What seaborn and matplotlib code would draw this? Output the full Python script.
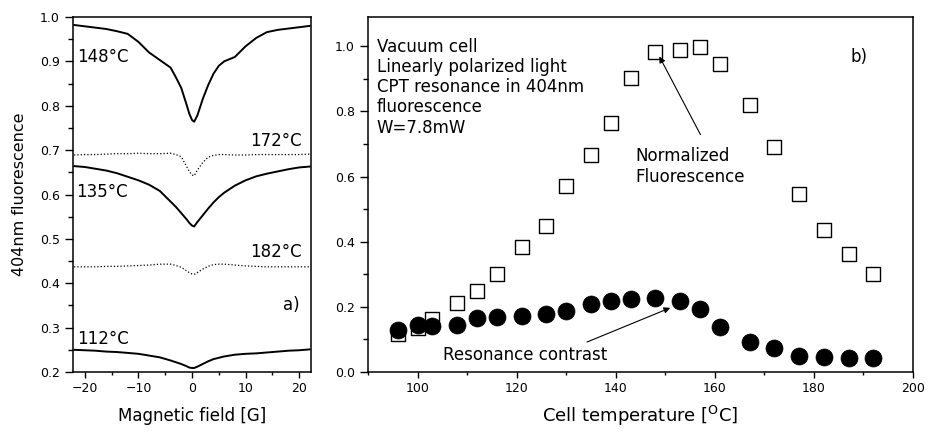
import matplotlib
matplotlib.use("Agg")
import pandas as pd
import matplotlib.pyplot as plt
from matplotlib.ticker import MultipleLocator
import seaborn as sns

# panel a) - fluorescence vs magnetic field
field = [-22, -20, -18, -16, -14, -12, -10, -8, -6, -4, -3, -2, -1, -0.5, 0, 0.4,
         1, 2, 3, 4, 5, 6, 8, 10, 12, 14, 16, 18, 20, 22]
fl_148 = [0.982, 0.979, 0.976, 0.973, 0.968, 0.962, 0.944, 0.920, 0.903, 0.886, 0.864, 0.840,
          0.802, 0.782, 0.768, 0.764, 0.778, 0.815, 0.846, 0.872, 0.890, 0.900, 0.910, 0.934,
          0.953, 0.966, 0.971, 0.974, 0.977, 0.980]
fl_172 = [0.689, 0.690, 0.690, 0.691, 0.692, 0.692, 0.693, 0.692, 0.692, 0.693, 0.690, 0.685,
          0.663, 0.652, 0.644, 0.642, 0.655, 0.672, 0.684, 0.688, 0.690, 0.690, 0.689, 0.689,
          0.690, 0.690, 0.690, 0.690, 0.690, 0.691]
fl_135 = [0.664, 0.662, 0.658, 0.654, 0.648, 0.640, 0.632, 0.622, 0.608, 0.584, 0.572, 0.558,
          0.544, 0.536, 0.530, 0.528, 0.538, 0.553, 0.568, 0.582, 0.594, 0.604, 0.620, 0.632,
          0.641, 0.647, 0.652, 0.657, 0.661, 0.663]
fl_182 = [0.437, 0.437, 0.437, 0.438, 0.438, 0.439, 0.440, 0.441, 0.443, 0.443, 0.440, 0.436,
          0.428, 0.424, 0.421, 0.420, 0.424, 0.432, 0.438, 0.442, 0.443, 0.443, 0.441, 0.439,
          0.438, 0.437, 0.437, 0.437, 0.437, 0.437]
fl_112 = [0.250, 0.249, 0.248, 0.246, 0.245, 0.243, 0.241, 0.237, 0.233, 0.226, 0.222, 0.218,
          0.213, 0.210, 0.209, 0.209, 0.212, 0.218, 0.224, 0.229, 0.232, 0.235, 0.239, 0.241,
          0.242, 0.244, 0.246, 0.248, 0.249, 0.251]

# panel b) - vs cell temperature
temps = [96, 100, 103, 108, 112, 116, 121, 126, 130, 135, 139, 143, 148, 153, 157, 161,
         167, 172, 177, 182, 187, 192]
norm_fluor = [0.118, 0.136, 0.162, 0.212, 0.250, 0.300, 0.383, 0.448, 0.570, 0.665, 0.764,
              0.903, 0.982, 0.990, 0.998, 0.947, 0.820, 0.690, 0.547, 0.437, 0.363, 0.300]
res_contrast = [0.130, 0.145, 0.142, 0.145, 0.166, 0.168, 0.172, 0.178, 0.188, 0.209, 0.218,
                0.225, 0.228, 0.219, 0.194, 0.138, 0.092, 0.074, 0.050, 0.046, 0.044, 0.044]

sns.set_style("ticks")
plt.rcParams["font.family"] = ["DejaVu Sans"]
plt.rcParams["axes.edgecolor"] = "black"
plt.rcParams["axes.linewidth"] = 1.1
plt.rcParams["xtick.color"] = "black"
plt.rcParams["ytick.color"] = "black"
plt.rcParams["text.color"] = "black"
plt.rcParams["axes.labelcolor"] = "black"

fig = plt.figure(figsize=(9.27, 4.32), dpi=100)
ax1 = fig.add_axes([73 / 927, 1 - 372 / 432, 238 / 927, 355 / 432])
ax2 = fig.add_axes([368 / 927, 1 - 372 / 432, 545 / 927, 355 / 432])

# --- panel a)
curves = pd.DataFrame({"B": field, "148": fl_148, "172": fl_172, "135": fl_135,
                       "182": fl_182, "112": fl_112})
for name in ["148", "135", "112"]:
    sns.lineplot(data=curves, x="B", y=name, ax=ax1, color="black", lw=1.4)
for name in ["172", "182"]:
    sns.lineplot(data=curves, x="B", y=name, ax=ax1, color="black", lw=0.9, linestyle=":")

ax1.set_xlim(-22.2, 22.2)
ax1.set_ylim(0.2, 1.0)
ax1.xaxis.set_major_locator(MultipleLocator(10))
ax1.xaxis.set_minor_locator(MultipleLocator(5))
ax1.yaxis.set_major_locator(MultipleLocator(0.1))
ax1.yaxis.set_minor_locator(MultipleLocator(0.05))
ax1.yaxis.set_major_formatter(lambda v, p: f"{v:.1f}")
ax1.set_xlabel("Magnetic field [G]", fontsize=12, labelpad=8)
ax1.set_ylabel("404nm fluorescence", fontsize=11.5, labelpad=9)

lab = dict(fontsize=12, va="center")
ax1.text(-21.4, 0.910, "148°C", ha="left", **lab)
ax1.text(20.5, 0.721, "172°C", ha="right", **lab)
ax1.text(-21.6, 0.606, "135°C", ha="left", **lab)
ax1.text(20.5, 0.470, "182°C", ha="right", **lab)
ax1.text(20.1, 0.351, "a)", ha="right", **lab)
ax1.text(-21.4, 0.274, "112°C", ha="left", **lab)

# --- panel b)
pts = pd.DataFrame({"T": temps, "fluor": norm_fluor, "contrast": res_contrast})
sns.scatterplot(data=pts, x="T", y="fluor", ax=ax2, marker="s", s=100,
                facecolor="white", edgecolor="black", linewidth=1.0, zorder=3)
sns.scatterplot(data=pts, x="T", y="contrast", ax=ax2, marker="o", s=150,
                color="black", edgecolor="black", linewidth=0.5, zorder=4)

ax2.set_xlim(90, 200)
ax2.set_ylim(0, 1.09)
ax2.xaxis.set_major_locator(MultipleLocator(20))
ax2.xaxis.set_minor_locator(MultipleLocator(10))
ax2.yaxis.set_major_locator(MultipleLocator(0.2))
ax2.yaxis.set_minor_locator(MultipleLocator(0.1))
ax2.yaxis.set_major_formatter(lambda v, p: f"{v:.1f}")
ax2.set_xlabel("Cell temperature [$^\\mathregular{O}$C]", fontsize=13, labelpad=6)
ax2.set_ylabel("")

ax2.text(91.8, 1.025, "Vacuum cell\nLinearly polarized light\nCPT resonance in 404nm\n"
         "fluorescence\nW=7.8mW", fontsize=12, ha="left", va="top", linespacing=1.15)
ax2.text(189, 0.966, "b)", fontsize=12, ha="center", va="center")
ax2.text(143.9, 0.631, "Normalized\nFluorescence", fontsize=12, ha="left", va="center",
         linespacing=1.15)
ax2.text(105.2, 0.052, "Resonance contrast", fontsize=12, ha="left", va="center")

arrow = dict(arrowstyle="-|>", color="black", lw=0.8, mutation_scale=9, shrinkA=0, shrinkB=0)
ax2.annotate("", xy=(148.8, 0.969), xytext=(157.1, 0.729), arrowprops=arrow)
ax2.annotate("", xy=(151.0, 0.197), xytext=(134.2, 0.092), arrowprops=arrow)

for ax in (ax1, ax2):
    for sp in ax.spines.values():
        sp.set_visible(True)
    ax.tick_params(axis="both", which="both", direction="out", width=1.0, labelsize=9)
    ax.tick_params(axis="y", which="major", length=6)
    ax.tick_params(axis="y", which="minor", length=3.5)
    ax.tick_params(axis="x", which="major", length=4)
    ax.tick_params(axis="x", which="minor", length=2.5)

fig.savefig("out.png", dpi=100)
